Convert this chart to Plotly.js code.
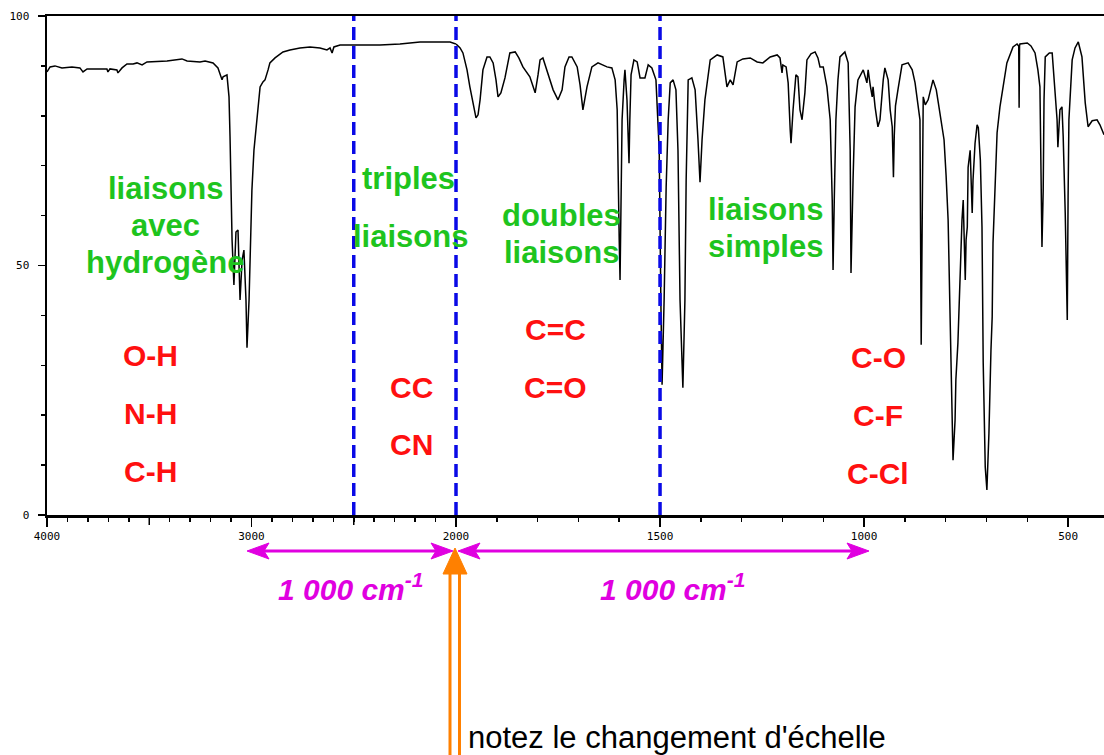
<!DOCTYPE html>
<html>
<head>
<meta charset="utf-8">
<script src="https://cdn.plot.ly/plotly-3.0.1.min.js"></script>
<style>html,body{margin:0;padding:0;background:#fff;}#chart{width:1104px;height:755px;}</style>
</head>
<body>
<div id="chart"></div>
<script>
// ---- Spectrum data: 4000-2000 cm-1 (compressed scale) ----
const wnHigh = [4000,3985,3961,3927,3878,3839,3824,3804,3707,3702,3692,3658,3653,3633,3609,3579,3560,3535,3511,3413,3340,3315,3252,3227,3188,3164,3144,3139,3120,3110,3105,3100,3095,3086,3076,3066,3056,3046,3037,3027,3022,3012,3007,2998,2988,2973,2958,2944,2934,2919,2910,2885,2846,2812,2763,2714,2665,2631,2616,2606,2597,2567,2469,2372,2274,2176,2078,2029,2000];
const tHigh  = [88.8,89.8,90.0,89.6,89.8,89.6,88.8,89.4,89.4,88.8,89.4,89.2,88.6,89.6,90.4,90.4,90.6,90.2,90.8,91.0,91.4,91.0,90.8,91.0,90.6,89.6,87.2,87.8,88.2,83.8,75.8,63.1,55.1,46.1,56.7,57.1,43.1,51.1,53.1,43.1,33.5,43.1,53.1,65.1,73.1,79.2,85.8,86.8,87.2,89.2,90.6,91.6,92.8,93.2,93.6,93.8,93.6,93.2,93.6,92.6,93.8,94.2,94.2,94.2,94.4,94.8,94.8,94.8,94.4];

// ---- Spectrum data: 2000-412 cm-1 (expanded scale) ----
const wnLow = [2000,1990,1983,1973,1966,1958,1951,1946,1941,1934,1924,1917,1909,1902,1897,1890,1880,1868,1855,1846,1836,1819,1806,1799,1794,1787,1777,1762,1750,1740,1733,1723,1716,1703,1696,1689,1679,1667,1652,1630,1618,1610,1605,1603,1600,1598,1596,1593,1588,1586,1581,1576,1574,1571,1564,1556,1549,1537,1529,1520,1510,1502,1498,1495,1490,1485,1480,1475,1468,1461,1456,1451,1444,1439,1436,1431,1422,1414,1407,1402,1397,1390,1377,1360,1346,1341,1336,1328,1321,1311,1297,1279,1262,1248,1230,1213,1206,1201,1199,1191,1186,1181,1179,1174,1167,1162,1157,1152,1145,1140,1130,1120,1113,1108,1100,1091,1083,1078,1076,1073,1069,1064,1059,1047,1039,1034,1032,1027,1022,1015,1002,993,990,985,980,978,973,966,961,953,949,941,936,931,928,926,923,917,907,892,882,875,868,863,860,858,855,850,843,831,823,818,809,804,799,794,789,784,782,777,775,770,765,760,757,755,752,750,747,745,740,738,735,733,728,723,720,715,711,708,703,699,694,689,686,684,679,674,667,659,650,635,625,621,620,619,618,600,591,581,574,569,564,561,559,556,546,539,532,527,525,520,515,512,507,502,500,498,490,483,475,471,466,458,451,441,429,422,414,412];
const tLow  = [94.4,93.6,92.6,89.2,85.8,82.6,79.6,80.2,83.2,89.2,91.8,91.8,90.6,87.2,83.8,84.6,87.6,92.6,92.8,91.6,89.8,87.8,84.6,88.2,91.2,91.6,89.2,85.2,83.2,85.2,89.8,91.8,91.8,89.8,86.2,81.2,85.8,89.8,90.6,89.8,89.6,87.2,81.2,67.1,55.1,47.1,63.1,79.2,87.2,89.2,83.2,70.5,79.2,88.2,91.2,90.8,87.6,87.6,90.2,89.6,87.2,73.1,43.1,26.1,43.1,65.7,79.2,86.6,87.2,85.2,73.1,43.1,25.5,43.1,67.1,87.2,87.6,85.2,75.2,66.7,75.2,83.2,91.2,92.2,91.8,89.2,85.8,87.2,86.2,90.8,91.4,91.6,90.8,90.6,91.8,92.2,91.6,88.6,90.2,89.8,86.6,77.2,74.5,81.2,88.2,87.8,81.2,79.2,84.6,91.2,92.4,92.8,91.6,89.8,89.8,85.8,79.2,63.1,49.1,63.1,79.2,87.2,91.8,92.8,90.6,73.1,48.5,67.1,81.8,87.2,89.2,86.6,89.2,86.2,83.8,85.8,81.8,77.8,79.2,87.2,89.6,87.2,81.2,77.8,67.7,76.0,82.0,85.2,90.2,90.6,89.2,86.6,82.2,79.2,34.1,63.1,83.8,82.2,83.2,87.2,85.2,82.6,77.2,75.2,68.1,59.1,39.1,19.0,11.0,19.0,27.1,34.5,48.5,59.1,63.1,57.1,47.1,55.1,57.7,69.7,73.1,68.1,60.5,67.1,74.5,78.2,77.6,71.1,57.7,30.5,9.6,5.0,16.4,33.1,39.7,54.5,66.5,76.6,81.8,86.2,90.6,93.8,94.4,94.0,81.6,94.0,94.4,94.6,94.0,92.6,89.2,85.8,53.7,65.1,83.2,91.8,92.6,92.6,85.8,79.2,73.7,81.2,81.8,75.8,60.5,39.1,63.7,79.2,91.2,93.6,94.8,93.6,91.8,82.6,77.8,79.0,79.2,78.2,76.6,76.2];

// ---- Axis ticks ----
const highTickVals = [4000,3000];
const highTickText = ['4000','3000'];
const highHalfTicks = [3500,2500];
const lowTickVals  = [2000,1500,1000,500];
const lowTickText  = ['2000','1500','1000','500'];
const yTickVals = [0,50,100];
const yTickText = ['0','50','100'];

// ---- Region boundaries (dashed lines) ----
const boundHigh = [2500];
const boundLow = [1500];

// ---- Texts ----
const greenHydro = ['liaisons','avec','hydrogène'];
const greenTriple = ['triples','liaisons'];
const greenDouble = ['doubles','liaisons'];
const greenSimple = ['liaisons','simples'];
const redHydro = ['O-H','N-H','C-H'];
const redTriple = ['CC','CN'];
const redDouble = ['C=C','C=O'];
const redSimple = ['C-O','C-F','C-Cl'];
const spanLabel = '1 000 cm<sup>-1</sup>';
const noteLabel = "notez le changement d'échelle";

// ---- Layout geometry (pixels) ----
const W = 1104, H = 755, L = 47, R = 0, T = 16, B = 240;
const PW = W - L - R, PH = H - T - B;
const split = (456 - L) / PW;
const PX = x => (x - L) / PW;
const PY = y => (H - B - y) / PH;

const GREEN = '#1ec41e', RED = '#ff1010', MAG = '#e000e0', BLUE = '#0a0ae6', ORANGE = '#ff8000';
const FAM = 'Liberation Sans, Arial, sans-serif';
const boldFont = (c, s) => ({family: FAM, size: s, color: c, weight: 'bold'});

const annotations = [];
function addText(txt, x, y, font, opts) {
  annotations.push(Object.assign({text: txt, xref: 'paper', yref: 'paper', x: PX(x), y: PY(y),
    xanchor: 'center', yanchor: 'middle', showarrow: false, font: font}, opts || {}));
}
function addLines(lines, x, y0, dy, font) { lines.forEach((t, i) => addText(t, x, y0 + i * dy, font)); }

addLines(greenHydro, 165, 188, 37, boldFont(GREEN, 31));
addText(greenTriple[0], 408, 178, boldFont(GREEN, 31));
addText(greenTriple[1], 410, 236, boldFont(GREEN, 31));
addLines(greenDouble, 561, 216, 36, boldFont(GREEN, 31));
addLines(greenSimple, 765, 209, 37, boldFont(GREEN, 31));
addLines(redHydro, 150, 355, 58, boldFont(RED, 30));
addLines(redTriple, 411, 387, 57, boldFont(RED, 30));
addLines(redDouble, 555, 329, 58, boldFont(RED, 30));
addLines(redSimple, 878, 357, 58, boldFont(RED, 30));
addText(spanLabel, 350, 587, {family: FAM, size: 30, color: MAG, weight: 'bold', style: 'italic'});
addText(spanLabel, 672, 587, {family: FAM, size: 30, color: MAG, weight: 'bold', style: 'italic'});
addText(noteLabel, 466, 737, {family: FAM, size: 31, color: '#000'}, {xanchor: 'left'});

// ---- Shapes ----
const DASH = {color: BLUE, width: 3.5, dash: '13px,6px'};
const shapes = [];
// longer half-way ticks (3500, 2500) below the compressed-scale axis
highHalfTicks.forEach(v => shapes.push({type: 'line', xref: 'x', yref: 'paper', x0: v, x1: v,
  y0: PY(516), y1: PY(525), line: {color: '#000', width: 1.5}}));
boundHigh.forEach(v => shapes.push({type: 'line', xref: 'x', yref: 'y', x0: v, x1: v, y0: 0, y1: 100, line: DASH}));
boundLow.forEach(v => shapes.push({type: 'line', xref: 'x2', yref: 'y', x0: v, x1: v, y0: 0, y1: 100, line: DASH}));
// 2000 cm-1 boundary sits on the junction of the two scales
shapes.push({type: 'line', xref: 'paper', yref: 'y', x0: split, x1: split, y0: 0, y1: 100, line: DASH});

function pathPx(pts) { return 'M' + pts.map(p => PX(p[0]) + ',' + PY(p[1])).join(' L') + ' Z'; }
function hArrowHead(tipX, y, dir, color) { // dir: -1 points left, +1 points right
  const len = 22, hw = 8, notch = 5;
  const bx = tipX - dir * len;
  shapes.push({type: 'path', xref: 'paper', yref: 'paper', layer: 'above',
    path: pathPx([[tipX, y], [bx, y - hw], [bx + dir * notch, y], [bx, y + hw]]),
    fillcolor: color, line: {color: color, width: 1}});
}
function segPx(x0, y0, x1, y1, color, w) {
  shapes.push({type: 'line', xref: 'paper', yref: 'paper', x0: PX(x0), y0: PY(y0), x1: PX(x1), y1: PY(y1),
    line: {color: color, width: w}});
}
// magenta span arrows
segPx(262, 551, 440, 551, MAG, 3);
hArrowHead(247, 551, -1, MAG); hArrowHead(453, 551, 1, MAG);
segPx(472, 551, 855, 551, MAG, 3);
hArrowHead(458, 551, -1, MAG); hArrowHead(869, 551, 1, MAG);
// orange hollow arrow
segPx(450, 572, 450, 760, ORANGE, 3);
segPx(459.5, 572, 459.5, 760, ORANGE, 3);
shapes.push({type: 'path', xref: 'paper', yref: 'paper', layer: 'above',
  path: pathPx([[455, 548], [467, 574], [443, 574]]), fillcolor: ORANGE, line: {color: ORANGE, width: 1}});

const tickFont = {family: 'DejaVu Sans Mono, monospace', size: 11, color: '#000'};
const minorX = {tickmode: 'linear', tick0: 0, dtick: 100, ticks: 'outside', ticklen: 4, tickwidth: 1.5, tickcolor: '#000'};
const axisCommon = {showgrid: false, zeroline: false, showline: true, linecolor: '#000', linewidth: 2.5,
  mirror: true, ticks: 'outside', ticklen: 9, tickwidth: 1.5, tickcolor: '#000', tickfont: tickFont, fixedrange: true};

const layout = {
  width: W, height: H, margin: {l: L, r: R, t: T, b: B, pad: 0},
  paper_bgcolor: '#fff', plot_bgcolor: '#fff', showlegend: false,
  xaxis: Object.assign({}, axisCommon, {domain: [0, split], range: [4000, 2000], anchor: 'y',
    tickmode: 'array', tickvals: highTickVals, ticktext: highTickText, minor: minorX}),
  xaxis2: Object.assign({}, axisCommon, {domain: [split, 1], range: [2000, 412], anchor: 'y',
    tickmode: 'array', tickvals: lowTickVals, ticktext: lowTickText, minor: minorX}),
  yaxis: Object.assign({}, axisCommon, {range: [0, 100], mirror: false, ticklen: 7,
    tickmode: 'array', tickvals: yTickVals, ticktext: yTickText, ticklabelstandoff: 6,
    minor: {tickmode: 'linear', tick0: 0, dtick: 10, ticks: 'outside', ticklen: 4, tickwidth: 1.5, tickcolor: '#000'}}),
  shapes: shapes,
  annotations: annotations
};

const traces = [
  {x: wnHigh, y: tHigh, xaxis: 'x', yaxis: 'y', type: 'scatter', mode: 'lines', line: {color: '#000', width: 1.5}},
  {x: wnLow, y: tLow, xaxis: 'x2', yaxis: 'y', type: 'scatter', mode: 'lines', line: {color: '#000', width: 1.5}}
];

Plotly.newPlot('chart', traces, layout, {displayModeBar: false, staticPlot: true});
</script>
</body>
</html>
